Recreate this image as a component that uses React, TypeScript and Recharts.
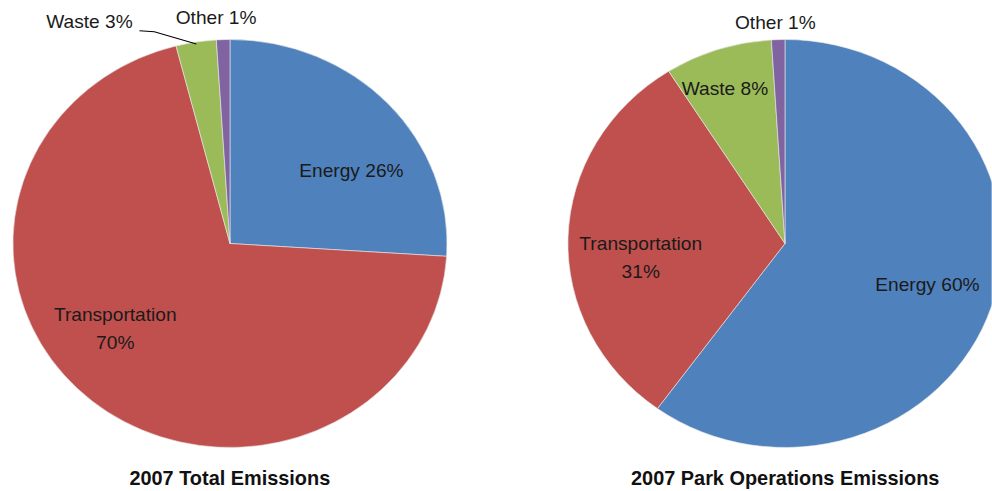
import { PieChart, Pie, Cell } from 'recharts';

const categories = ['Energy', 'Transportation', 'Waste', 'Other'];
const totalValues = [26, 70, 3, 1];
const parkValues = [60, 31, 8, 1];
const titles = ['2007 Total Emissions', '2007 Park Operations Emissions'];

const COLORS = ['#4F81BD', '#C0504D', '#9BBB59', '#8064A2'];
const W = 992;
const H = 491;
const SX = 1.064; // the source image is a bit wider than tall
const R = 204;
const FONT = '"Liberation Sans", Arial, sans-serif';

// label placement: radius factor along mid angle + small nudge, two lines?, leader?
const totalLabels = [
  { rf: 0.66, dx: 16, dy: 19 },
  { rf: 0.66, dx: -22, dy: -19, split: true },
  { rf: 1.1, dx: -97, dy: 0, leader: true },
  { rf: 1.1, dx: -6, dy: -2 },
];
const parkLabels = [
  { rf: 0.69, dx: 0, dy: -2 },
  { rf: 0.66, dx: -1, dy: 18, split: true },
  { rf: 0.8, dx: -6, dy: 0 },
  { rf: 1.1, dx: -2, dy: 4 },
];

const toRows = (vals: number[]) => categories.map((name, i) => ({ name, value: vals[i] }));

function makeLabel(cfg: any[]) {
  return (p: any) => {
    const c = cfg[p.index];
    const a = (-p.midAngle * Math.PI) / 180;
    const x = p.cx + R * c.rf * Math.cos(a) + c.dx;
    const y = p.cy + R * c.rf * Math.sin(a) + c.dy;
    const txt = { fill: '#1a1a1a', fontSize: 18, fontFamily: FONT, textAnchor: 'middle' as const };
    if (c.split) {
      return (
        <g key={p.index}>
          <text x={x} y={y - 14} dominantBaseline="central" {...txt}>{p.name}</text>
          <text x={x} y={y + 14} dominantBaseline="central" {...txt}>{p.value}%</text>
        </g>
      );
    }
    let leader = null;
    if (c.leader) {
      const ex = p.cx + R * 0.99 * Math.cos(a);
      const ey = p.cy + R * 0.99 * Math.sin(a);
      leader = (
        <polyline
          points={`${x + 47},${y + 9} ${x + 61},${y + 10} ${ex},${ey}`}
          fill="none"
          stroke="#000"
          strokeWidth={1}
        />
      );
    }
    return (
      <g key={p.index}>
        {leader}
        <text x={x} y={y} dominantBaseline="central" {...txt}>{`${p.name} ${p.value}%`}</text>
      </g>
    );
  };
}

export default function App() {
  const w = W / SX;
  const centers = [230 / SX, 785 / SX];
  return (
    <div style={{ position: 'absolute', left: 0, top: 0, width: W, height: H, overflow: 'hidden', background: '#fff' }}>
      <div style={{ position: 'relative', width: w, height: H, transform: `scaleX(${SX})`, transformOrigin: '0 0' }}>
        <PieChart width={w} height={H} margin={{ top: 0, right: 0, bottom: 0, left: 0 }}>
          <Pie
            data={toRows(totalValues)}
            dataKey="value"
            nameKey="name"
            cx={centers[0]}
            cy={243.5}
            outerRadius={R}
            startAngle={90}
            endAngle={-270}
            stroke="#e8e8e8"
            strokeWidth={0.6}
            label={makeLabel(totalLabels)}
            labelLine={false}
            isAnimationActive={false}
          >
            {categories.map((c, i) => <Cell key={c} fill={COLORS[i]} />)}
          </Pie>
          <Pie
            data={toRows(parkValues)}
            dataKey="value"
            nameKey="name"
            cx={centers[1]}
            cy={243.5}
            outerRadius={R}
            startAngle={90}
            endAngle={-270}
            stroke="#e8e8e8"
            strokeWidth={0.6}
            label={makeLabel(parkLabels)}
            labelLine={false}
            isAnimationActive={false}
          >
            {categories.map((c, i) => <Cell key={c} fill={COLORS[i]} />)}
          </Pie>
        </PieChart>
        {titles.map((t, i) => (
          <div
            key={t}
            style={{
              position: 'absolute',
              left: centers[i] - 200,
              width: 400,
              top: 466,
              textAlign: 'center',
              fontFamily: FONT,
              fontWeight: 'bold',
              fontSize: 21,
              lineHeight: '24px',
              color: '#111',
              transform: 'scaleX(0.89)',
              transformOrigin: '50% 0',
            }}
          >
            {t}
          </div>
        ))}
      </div>
    </div>
  );
}
